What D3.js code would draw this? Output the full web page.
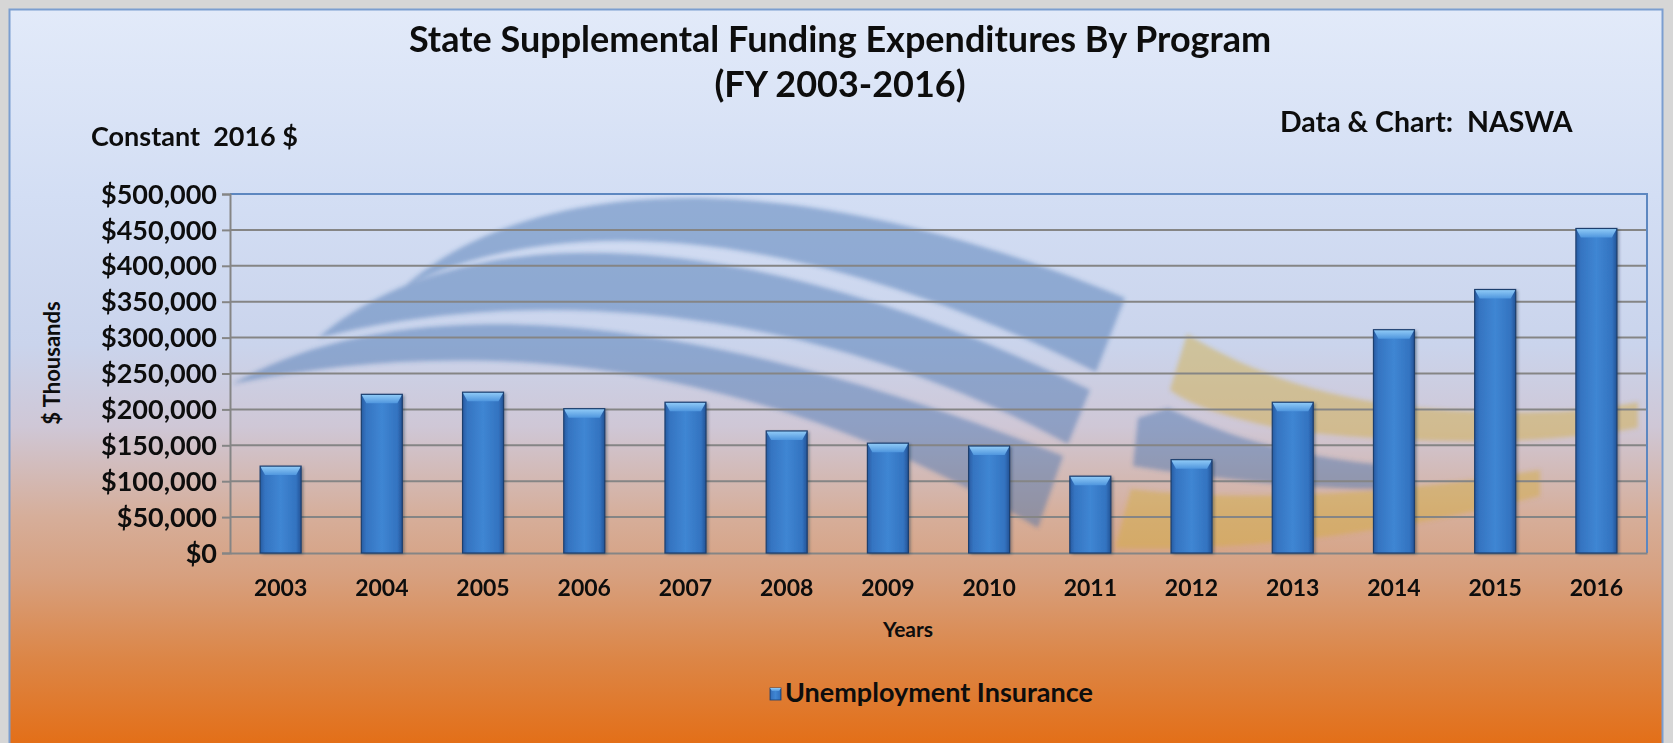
<!DOCTYPE html>
<html>
<head>
<meta charset="utf-8">
<script src="https://cdn.jsdelivr.net/npm/d3@7/dist/d3.min.js"></script>
<style>
  html, body { margin: 0; padding: 0; background: #d6d6d6; }
  svg { display: block; }
  text { font-family: Lato, "Open Sans", sans-serif; font-weight: 700; fill: #0d0d0d; }
</style>
</head>
<body>
<svg id="chart" width="1673" height="743"></svg>
<script>
// Fiscal years and State Supplemental Funding for Unemployment Insurance ($ thousands, constant 2016 $)
const years = ["2003", "2004", "2005", "2006", "2007", "2008", "2009",
               "2010", "2011", "2012", "2013", "2014", "2015", "2016"];
const unemploymentInsurance = [121000, 221000, 224000, 201000, 210000, 170000, 153000,
                               149000, 107000, 130000, 210000, 311000, 367000, 452000];
const yTicks = [0, 50000, 100000, 150000, 200000, 250000, 300000, 350000, 400000, 450000, 500000];
const seriesName = "Unemployment Insurance";

const plot = { left: 230, right: 1647, top: 194, bottom: 553 };

const svg = d3.select("#chart");
const defs = svg.append("defs");

// Background of the chart panel: pale blue at the top fading into orange
const bg = defs.append("linearGradient").attr("id", "panelBg")
  .attr("x1", 0).attr("y1", 0).attr("x2", 0).attr("y2", 1);
[[0, "#e2eaf9"], [0.25, "#d3def4"], [0.45, "#cad4ec"], [0.56, "#cfc7d6"],
 [0.68, "#d6ae9a"], [0.76, "#d7a07f"], [0.87, "#dc8647"], [1, "#e46c12"]]
  .forEach(([o, c]) => bg.append("stop").attr("offset", o).attr("stop-color", c));

// Bar body: darker at the edges, brighter in the middle
const body = defs.append("linearGradient").attr("id", "barBody")
  .attr("x1", 0).attr("y1", 0).attr("x2", 1).attr("y2", 0);
[[0, "#285ca2"], [0.12, "#3574c1"], [0.5, "#3f86d3"], [0.88, "#3373c0"], [1, "#245396"]]
  .forEach(([o, c]) => body.append("stop").attr("offset", o).attr("stop-color", c));

// Bevel on the bar top
const cap = defs.append("linearGradient").attr("id", "barCap")
  .attr("x1", 0).attr("y1", 0).attr("x2", 0).attr("y2", 1);
[[0, "#93cdf8"], [1, "#4f96de"]]
  .forEach(([o, c]) => cap.append("stop").attr("offset", o).attr("stop-color", c));

const shadow = defs.append("filter").attr("id", "barShadow")
  .attr("x", "-30%").attr("y", "-10%").attr("width", "160%").attr("height", "120%");
shadow.append("feDropShadow").attr("dx", 2).attr("dy", 1).attr("stdDeviation", 1.5)
  .attr("flood-color", "#1a2a40").attr("flood-opacity", 0.45);

const soft = defs.append("filter").attr("id", "soft");
soft.append("feGaussianBlur").attr("stdDeviation", 2.2);

// Panel
svg.append("rect").attr("x", 9.5).attr("y", 9.5).attr("width", 1653).attr("height", 745)
  .attr("fill", "url(#panelBg)").attr("stroke", "#7b9ed0").attr("stroke-width", 2);

// Scales
const x = d3.scaleBand().domain(years).range([plot.left, plot.right])
  .paddingInner(0.595).paddingOuter(0.2975);
const y = d3.scaleLinear().domain([0, 500000]).range([plot.bottom, plot.top]);

// Faint logo watermark behind the bars (shapes in plot-local units)
const logo = svg.append("g").attr("transform", `translate(${plot.left},${plot.top})`)
  .attr("filter", "url(#soft)");
const blueBands = [
  "M175,92 C290,-8 530,-46 895,104 L866,178 C570,30 330,16 175,92 Z",
  "M88,144 C210,38 470,6 860,196 L838,250 C570,104 290,92 88,144 Z",
  "M2,190 C150,106 410,94 833,262 L808,334 C530,166 250,138 2,190 Z",
  "M908,224 L938,214 C1000,244 1070,264 1165,272 L1162,296 C1060,294 980,284 903,272 Z"
];
const goldBands = [
  "M957,140 C1010,172 1080,203 1190,214 C1290,222 1360,218 1408,208 L1408,234 C1300,252 1200,250 1070,238 C1010,228 960,212 940,196 Z",
  "M901,295 C1000,308 1150,302 1310,276 L1310,302 C1150,342 1000,358 885,354 Z"
];
logo.selectAll("path.gold").data(goldBands).join("path").attr("class", "gold")
  .attr("d", d => d).attr("fill", "#d2ad3c").attr("opacity", 0.45);
logo.selectAll("path.blue").data(blueBands).join("path").attr("class", "blue")
  .attr("d", d => d).attr("fill", "#3a69aa").attr("opacity", 0.42);

// Horizontal gridlines
svg.append("g").selectAll("line").data(yTicks.filter(d => d > 0 && d < 500000)).join("line")
  .attr("x1", plot.left).attr("x2", plot.right)
  .attr("y1", d => y(d)).attr("y2", d => y(d))
  .attr("stroke", "#858585").attr("stroke-width", 2);

// Plot frame: blue on top and right, grey axes on left and bottom
svg.append("path")
  .attr("d", `M${plot.left},${plot.top} H${plot.right} V${plot.bottom}`)
  .attr("fill", "none").attr("stroke", "#5d87c0").attr("stroke-width", 2);

// Y axis
const yAxis = svg.append("g").attr("transform", `translate(${plot.left},0)`)
  .call(d3.axisLeft(y).tickValues(yTicks).tickSize(8).tickPadding(5)
    .tickFormat(d => "$" + d3.format(",")(d)));
yAxis.select(".domain").attr("stroke", "#858585").attr("stroke-width", 2);
yAxis.selectAll(".tick line").attr("stroke", "#858585").attr("stroke-width", 2);
yAxis.selectAll(".tick text").attr("font-size", 27).attr("fill", "#0d0d0d")
  .attr("font-family", "Lato, sans-serif").attr("font-weight", 700).attr("dy", "0.34em");

// X axis
const xAxis = svg.append("g").attr("transform", `translate(0,${plot.bottom})`)
  .call(d3.axisBottom(x).tickSize(0).tickPadding(27));
xAxis.select(".domain").attr("stroke", "#858585").attr("stroke-width", 2);
xAxis.selectAll(".tick text").attr("font-size", 23).attr("fill", "#0d0d0d")
  .attr("font-family", "Lato, sans-serif").attr("font-weight", 700);

// Bars with bevelled tops
const bev = 5, capH = 9;
const bars = svg.append("g").selectAll("g.bar")
  .data(years.map((yr, i) => ({ year: yr, value: unemploymentInsurance[i] })))
  .join("g").attr("class", "bar");
bars.append("rect")
  .attr("x", d => x(d.year)).attr("y", d => y(d.value))
  .attr("width", x.bandwidth()).attr("height", d => y(0) - y(d.value))
  .attr("fill", "url(#barBody)").attr("filter", "url(#barShadow)");
bars.append("path")
  .attr("d", d => {
    const x0 = x(d.year), x1 = x0 + x.bandwidth(), t = y(d.value);
    return `M${x0},${t} L${x1},${t} L${x1 - bev},${t + capH} L${x0 + bev},${t + capH} Z`;
  })
  .attr("fill", "url(#barCap)");
bars.append("rect")
  .attr("x", d => x(d.year)).attr("y", d => y(d.value))
  .attr("width", x.bandwidth()).attr("height", d => y(0) - y(d.value))
  .attr("fill", "none").attr("stroke", "#1d3f6e").attr("stroke-width", 1.2);

// Titles
svg.append("text").attr("x", 840).attr("y", 52).attr("text-anchor", "middle")
  .attr("font-size", 36).text("State Supplemental Funding Expenditures By Program");
svg.append("text").attr("x", 840).attr("y", 97).attr("text-anchor", "middle")
  .attr("font-size", 36).text("(FY 2003-2016)");
svg.append("text").attr("x", 91).attr("y", 146).attr("font-size", 27)
  .attr("xml:space", "preserve").text("Constant  2016 $");
svg.append("text").attr("x", 1280).attr("y", 132).attr("font-size", 28.5)
  .attr("xml:space", "preserve").text("Data & Chart:  NASWA");

// Axis titles
svg.append("text").attr("transform", "translate(60,363) rotate(-90)")
  .attr("text-anchor", "middle").attr("font-size", 22).text("$ Thousands");
svg.append("text").attr("x", 908).attr("y", 637).attr("text-anchor", "middle")
  .attr("font-size", 21).text("Years");

// Legend
const legend = svg.append("g").attr("transform", "translate(770,688)");
legend.append("rect").attr("width", 11).attr("height", 12)
  .attr("fill", "url(#barBody)").attr("stroke", "#1d3f6e").attr("stroke-width", 0.8);
legend.append("path").attr("d", "M0,0 L11,0 L9,3 L2,3 Z").attr("fill", "url(#barCap)");
legend.append("text").attr("x", 15).attr("y", 14).attr("font-size", 27).text(seriesName);
</script>
</body>
</html>
